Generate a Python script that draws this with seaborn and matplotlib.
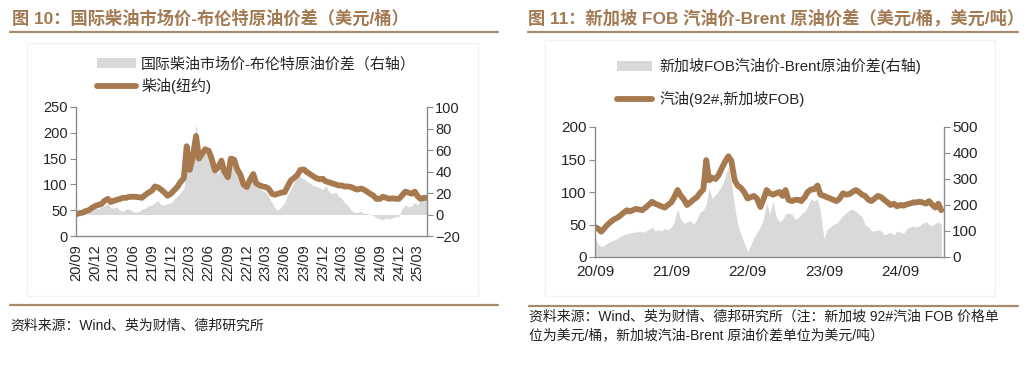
import matplotlib
matplotlib.use("Agg")
import matplotlib.pyplot as plt
import matplotlib.dates as mdates
from matplotlib.lines import Line2D
from matplotlib.patches import Patch, Rectangle
import numpy as np
import pandas as pd
import seaborn as sns

# ---- 数据（半月频，读图估计） ----
diesel_dates = pd.date_range("2020-09-01", "2025-04-15", freq="SMS")
diesel_ny = [
    42, 44, 45, 48, 50, 54, 58, 60,                      # 2020/09-12
    62, 68, 72, 66, 68, 70, 72, 74, 74, 76, 76, 76,      # 2021/01-06
    75, 74, 80, 84, 88, 96, 94, 90, 84, 78, 82, 88,      # 2021/07-12
    95, 104, 112, 174, 128, 150, 194, 150, 160, 168, 165, 150,   # 2022/01-06
    127, 132, 146, 125, 114, 150, 148, 130, 118, 100, 95, 108,   # 2022/07-12
    120, 102, 98, 96, 95, 92, 82, 80, 82, 84, 85, 96,    # 2023/01-06
    108, 112, 118, 128, 129, 124, 120, 116, 112, 110, 111, 106,  # 2023/07-12
    104, 102, 100, 98, 98, 96, 96, 95, 92, 90, 92, 90,   # 2024/01-06
    86, 82, 78, 72, 72, 76, 74, 72, 73, 72, 72, 78,      # 2024/07-12
    86, 84, 82, 86, 77, 72, 74, 74,                      # 2025/01-04
]
diesel_spread = [
    1, 3, 3, 5, 5, 7, 6, 5,
    7, 8, 10, 6, 6, 7, 4, 3, 5, 5, 3, 2,
    3, 5, 6, 8, 9, 11, 13, 9, 9, 10, 11, 14,
    17, 20, 24, 42, 38, 52, 85, 58, 60, 64, 56, 50,
    42, 38, 47, 40, 37, 46, 48, 42, 40, 32, 24, 30,
    34, 26, 24, 22, 21, 17, 11, 6, 4, 7, 11, 18,
    24, 30, 34, 35, 33, 31, 29, 27, 26, 25, 23, 27,
    21, 19, 21, 17, 15, 11, 8, 4, 2, 2, 3, 1,
    1, 0, -1, -3, -4, -5, -3, -4, -3, -2, -2, 5,
    9, 7, 8, 11, 9, 13, 15, 17,
]

gas_dates = pd.date_range("2020-09-01", "2025-03-16", freq="SMS")
gasoline_sg = [
    46, 44, 39, 44, 50, 54, 58, 60,
    64, 68, 72, 70, 72, 74, 73, 72, 76, 80, 85, 82,
    80, 78, 76, 80, 84, 92, 103, 95, 88, 80, 84, 88,
    92, 98, 104, 149, 118, 122, 120, 126, 137, 146, 155, 148,
    118, 110, 106, 100, 90, 92, 94, 90, 77, 88, 103, 98,
    96, 98, 100, 94, 103, 88, 86, 88, 88, 86, 92, 100,
    104, 104, 110, 96, 94, 92, 90, 88, 86, 90, 98, 96,
    97, 100, 103, 100, 96, 94, 88, 86, 90, 94, 92, 88,
    84, 80, 82, 78, 80, 79, 81, 82, 84, 84, 85, 84,
    82, 86, 80, 76, 82, 72,
]
gasoline_spread = [
    80, 50, 40, 45, 55, 60, 65, 70,
    80, 85, 90, 92, 96, 95, 100, 95, 100, 105, 115, 100,
    105, 100, 110, 105, 115, 135, 185, 145, 130, 135, 140, 125,
    145, 170, 180, 205, 265, 225, 240, 255, 275, 305, 350, 285,
    195, 125, 85, 55, 20, 45, 75, 95, 115, 145, 210, 165,
    215, 155, 135, 145, 165, 170, 165, 145, 150, 165, 175, 195,
    225, 215, 222, 175, 70, 105, 115, 125, 130, 145, 160, 170,
    180, 185, 175, 165, 155, 125, 115, 100, 100, 105, 100, 85,
    90, 95, 85, 100, 95, 90, 110, 115, 120, 115, 120, 130,
    135, 125, 120, 130, 135, 125,
]

left_ticks = pd.date_range("2020-09-01", "2025-03-01", freq="3MS")
right_ticks = pd.date_range("2020-09-01", "2024-09-01", freq="12MS")

brown = "#a67a4e"
grey_fill = "#d9d9d9"
spine_c = "#8c8c8c"
title_c = "#a27a52"
line_w = 4.2

sns.set_theme(style="white")
plt.rcParams["font.family"] = ["Liberation Sans", "Noto Sans CJK SC", "DejaVu Sans"]

W, H = 1027, 381
fig = plt.figure(figsize=(W / 100, H / 100), dpi=100)


def fx(px):
    return px / W


def fy(py):
    return 1 - py / H


def style_axes(ax, ax2, fs):
    for a in (ax, ax2):
        a.spines["top"].set_visible(False)
        for s in ("left", "right", "bottom"):
            a.spines[s].set_color(spine_c)
            a.spines[s].set_linewidth(1.0)
        a.tick_params(axis="both", direction="out", length=4, width=0.8,
                      color=spine_c, labelsize=fs, pad=2)
    ax.spines["right"].set_visible(False)
    ax2.spines["left"].set_visible(False)
    ax2.spines["bottom"].set_visible(False)
    ax.set_xlabel("")
    ax.set_ylabel("")
    ax2.set_ylabel("")
    ax.grid(False)
    ax2.grid(False)


# faint frames
for x0, x1, y0, y1 in [(27, 478, 43, 296), (545, 995, 40, 296)]:
    fig.add_artist(Rectangle((fx(x0), fy(y1)), fx(x1) - fx(x0), fy(y0) - fy(y1),
                             transform=fig.transFigure, fill=False,
                             edgecolor="#f3f3f3", linewidth=1))

# ---- 左图 ----
axL = fig.add_axes([fx(76), fy(236), fx(427) - fx(76), fy(107) - fy(236)])
axL2 = axL.twinx()
axL2.fill_between(diesel_dates, 0, diesel_spread, color=grey_fill, linewidth=0)
sns.lineplot(x=diesel_dates, y=diesel_ny, ax=axL, color=brown, linewidth=line_w)
axL.set_zorder(axL2.get_zorder() + 1)
axL.patch.set_visible(False)
axL.set_ylim(0, 250)
axL.set_yticks(np.arange(0, 251, 50))
axL2.set_ylim(-20, 100)
axL2.set_yticks(np.arange(-20, 101, 20))
axL.set_xlim(pd.Timestamp("2020-09-01"), pd.Timestamp("2025-04-15"))
axL.set_xticks(left_ticks)
axL.xaxis.set_major_formatter(mdates.DateFormatter("%y/%m"))
style_axes(axL, axL2, 10.5)
plt.setp(axL.get_xticklabels(), rotation=90)

# ---- 右图 ----
axR = fig.add_axes([fx(595), fy(257), fx(944) - fx(595), fy(127) - fy(257)])
axR2 = axR.twinx()
axR2.fill_between(gas_dates, 0, gasoline_spread, color=grey_fill, linewidth=0)
sns.lineplot(x=gas_dates, y=gasoline_sg, ax=axR, color=brown, linewidth=line_w)
axR.set_zorder(axR2.get_zorder() + 1)
axR.patch.set_visible(False)
axR.set_ylim(0, 200)
axR.set_yticks(np.arange(0, 201, 50))
axR2.set_ylim(0, 500)
axR2.set_yticks(np.arange(0, 501, 100))
axR.set_xlim(pd.Timestamp("2020-09-01"), pd.Timestamp("2025-03-28"))
axR.set_xticks(right_ticks)
axR.xaxis.set_major_formatter(mdates.DateFormatter("%y/%m"))
style_axes(axR, axR2, 11)

# ---- 图例 ----
fig.legend(handles=[Patch(facecolor=grey_fill, edgecolor="none"),
                    Line2D([], [], color=brown, linewidth=line_w)],
           labels=["国际柴油市场价-布伦特原油价差（右轴）", "柴油(纽约)"],
           loc="upper left", bbox_to_anchor=(fx(97), fy(57)), frameon=False,
           fontsize=10.8, handlelength=2.6, handletextpad=0.35, labelspacing=0.45,
           borderaxespad=0, borderpad=0)
fig.legend(handles=[Patch(facecolor=grey_fill, edgecolor="none"),
                    Line2D([], [], color=brown, linewidth=line_w)],
           labels=["新加坡FOB汽油价-Brent原油价差(右轴)", "汽油(92#,新加坡FOB)"],
           loc="upper left", bbox_to_anchor=(fx(617), fy(58)), frameon=False,
           fontsize=10.8, handlelength=2.3, handletextpad=0.5, labelspacing=1.15,
           borderaxespad=0, borderpad=0)

# ---- 标题与注释 ----
fig.text(fx(12), fy(18), "图 10：国际柴油市场价-布伦特原油价差（美元/桶）",
         fontsize=12.4, fontweight="bold", color=title_c, va="center", ha="left")
fig.text(fx(528), fy(18), "图 11：新加坡 FOB 汽油价-Brent 原油价差（美元/桶，美元/吨）",
         fontsize=12.4, fontweight="bold", color=title_c, va="center", ha="left")
for x0, x1, y in [(10, 498, 32), (528, 1018, 32), (10, 498, 305), (529, 1018, 306)]:
    fig.add_artist(Line2D([fx(x0), fx(x1)], [fy(y), fy(y)], color="#a88a6c",
                          linewidth=1.6, transform=fig.transFigure))
fig.text(fx(10), fy(326), "资料来源：Wind、英为财情、德邦研究所",
         fontsize=10, color="#222222", va="center", ha="left")
fig.text(fx(529), fy(317), "资料来源：Wind、英为财情、德邦研究所（注：新加坡 92#汽油 FOB 价格单",
         fontsize=10, color="#222222", va="center", ha="left")
fig.text(fx(529), fy(335), "位为美元/桶，新加坡汽油-Brent 原油价差单位为美元/吨）",
         fontsize=10, color="#222222", va="center", ha="left")

fig.savefig("out.png", dpi=100)
plt.close(fig)
